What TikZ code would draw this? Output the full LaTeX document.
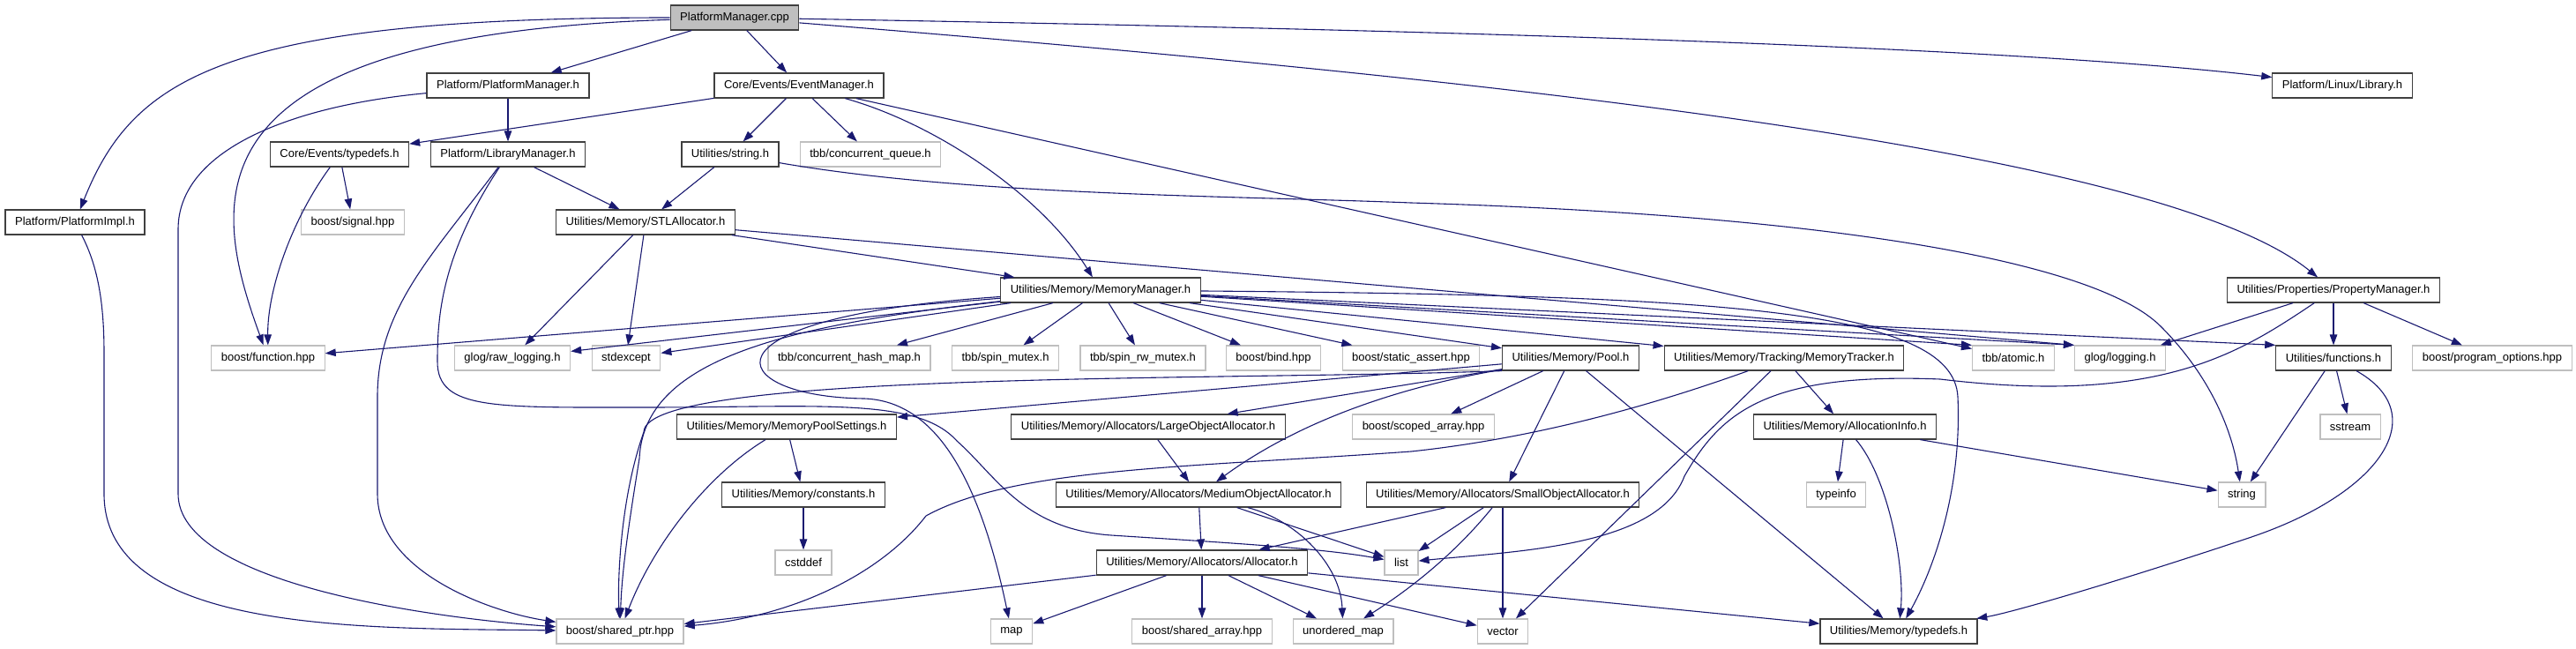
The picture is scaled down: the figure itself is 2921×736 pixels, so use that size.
\documentclass[tikz,border=0pt]{standalone}
\usepackage{fontspec}
\setmainfont{Liberation Sans}
\usetikzlibrary{arrows.meta}
\definecolor{edgeBlue}{HTML}{191970}
\definecolor{boxDark}{HTML}{404040}
\definecolor{boxGrey}{HTML}{BFBFBF}

\begin{document}
\begin{tikzpicture}[x=1bp, y=-1bp,
          hdr/.style={draw=boxDark, line width=1.2bp, minimum height=28bp,
            inner xsep=11bp, inner ysep=0pt, font=\fontsize{13bp}{15bp}\selectfont},
          ext/.style={hdr, draw=boxGrey},
          src/.style={hdr, fill=boxGrey},
          arr/.style={edgeBlue, line width=1.1bp, -{Triangle[length=12bp, width=8.5bp]}}]
        \useasboundingbox (0,0) rectangle (2921,736);
        \node[src] (cpp) at (833,20) {PlatformManager.cpp};
        \node[hdr] (pmh) at (576,97) {Platform/PlatformManager.h};
        \node[hdr] (evm) at (906,97) {Core/Events/EventManager.h};
        \node[hdr] (lnx) at (2656,97) {Platform/Linux/Library.h};
        \node[hdr] (evt) at (385,175) {Core/Events/typedefs.h};
        \node[hdr] (lbm) at (576,175) {Platform/LibraryManager.h};
        \node[hdr] (strh) at (828,175) {Utilities/string.h};
        \node[ext] (cq) at (987,175) {tbb/concurrent\_queue.h};
        \node[hdr] (impl) at (85,252) {Platform/PlatformImpl.h};
        \node[ext] (sig) at (400,252) {boost/signal.hpp};
        \node[hdr] (stl) at (732,252) {Utilities/Memory/STLAllocator.h};
        \node[hdr] (mm) at (1248,329) {Utilities/Memory/MemoryManager.h};
        \node[hdr] (prop) at (2646,329) {Utilities/Properties/PropertyManager.h};
        \node[ext] (fun) at (304,406) {boost/function.hpp};
        \node[ext] (rawlog) at (581,406) {glog/raw\_logging.h};
        \node[ext] (stdex) at (710,406) {stdexcept};
        \node[ext] (chm) at (963,406) {tbb/concurrent\_hash\_map.h};
        \node[ext] (spin) at (1140,406) {tbb/spin\_mutex.h};
        \node[ext] (spinrw) at (1296,406) {tbb/spin\_rw\_mutex.h};
        \node[ext] (bind) at (1444,406) {boost/bind.hpp};
        \node[ext] (sassert) at (1600,406) {boost/static\_assert.hpp};
        \node[hdr] (pool) at (1781,406) {Utilities/Memory/Pool.h};
        \node[hdr] (track) at (2023,406) {Utilities/Memory/Tracking/MemoryTracker.h};
        \node[ext] (atomic) at (2283,406) {tbb/atomic.h};
        \node[ext] (glog) at (2404,406) {glog/logging.h};
        \node[hdr] (funcs) at (2646,406) {Utilities/functions.h};
        \node[ext] (popt) at (2826,406) {boost/program\_options.hpp};
        \node[hdr] (mps) at (892,484) {Utilities/Memory/MemoryPoolSettings.h};
        \node[hdr] (loa) at (1302,484) {Utilities/Memory/Allocators/LargeObjectAllocator.h};
        \node[ext] (scoped) at (1614,484) {boost/scoped\_array.hpp};
        \node[hdr] (ainfo) at (2092,484) {Utilities/Memory/AllocationInfo.h};
        \node[ext] (sstr) at (2665,484) {sstream};
        \node[hdr] (consts) at (911,561) {Utilities/Memory/constants.h};
        \node[hdr] (moa) at (1359,561) {Utilities/Memory/Allocators/MediumObjectAllocator.h};
        \node[hdr] (soa) at (1704,561) {Utilities/Memory/Allocators/SmallObjectAllocator.h};
        \node[ext] (tinfo) at (2082,561) {typeinfo};
        \node[ext] (str) at (2542,561) {string};
        \node[ext] (cstd) at (911,638) {cstddef};
        \node[hdr] (alloc) at (1363,638) {Utilities/Memory/Allocators/Allocator.h};
        \node[ext] (list) at (1589,638) {list};
        \node[ext] (sptr) at (703,716) {boost/shared\_ptr.hpp};
        \node[ext] (map) at (1147,716) {map};
        \node[ext] (sarr) at (1363,716) {boost/shared\_array.hpp};
        \node[ext] (umap) at (1523,716) {unordered\_map};
        \node[ext] (vec) at (1704,716) {vector};
        \node[hdr] (mtd) at (2153,716) {Utilities/Memory/typedefs.h};
        \foreach \a/\b in {cpp/pmh, cpp/evm, pmh/lbm, evm/evt, evm/strh, evm/cq, evm/atomic,
            evt/sig, lbm/stl, strh/stl, stl/mm, stl/rawlog, stl/stdex, mm/fun, mm/rawlog,
            mm/stdex, mm/chm, mm/spin, mm/spinrw, mm/bind, mm/sassert, mm/pool, mm/track,
            prop/glog, prop/funcs, prop/popt, funcs/str, funcs/sstr, pool/mps, pool/loa,
            pool/scoped, pool/soa, pool/mtd, track/ainfo, track/vec, ainfo/tinfo, ainfo/str,
            mps/consts, consts/cstd, loa/moa, moa/alloc, moa/list, soa/alloc, soa/list,
            soa/vec, alloc/sptr, alloc/map, alloc/sarr, alloc/umap, alloc/vec, alloc/mtd}
          \draw[arr] (\a) -- (\b);
        \draw[arr] (stl) -- (glog.north west);
        \draw[arr] (mm) -- (glog.north west);
        \draw[arr] (mm) -- (atomic.north west);
        \draw[arr] (mm) -- (funcs.north west);
        \draw[arr] (cpp) .. controls (250,20) and (150,90) .. (impl);
        \draw[arr] (cpp) .. controls (200,40) and (240,230) .. (fun);
        \draw[arr] (cpp) .. controls (1700,35) and (2300,55) .. (lnx);
        \draw[arr] (cpp) .. controls (1700,90) and (2450,170) .. (prop);
        \draw[arr] (pmh) .. controls (330,120) and (202,170) .. (202,260) -- (202,560)
          .. controls (202,660) and (480,700) .. (sptr);
        \draw[arr] (evm) .. controls (1060,140) and (1180,220) .. (mm);
        \draw[arr] (evt) .. controls (330,250) and (303,330) .. (fun);
        \draw[arr] (lbm) .. controls (490,290) and (428,350) .. (428,450) -- (428,560)
          .. controls (428,650) and (560,695) .. (sptr);
        \draw[arr] (lbm) .. controls (500,290) and (496,360) .. (496,410)
          .. controls (496,465) and (560,462) .. (730,462)
          .. controls (930,462) and (1040,450) .. (1085,500)
          .. controls (1130,540) and (1160,600) .. (1260,607)
          .. controls (1400,616) and (1500,622) .. (list);
        \draw[arr] (strh) .. controls (1100,222) and (1400,222) .. (1600,230)
          .. controls (2100,245) and (2380,300) .. (2450,370)
          .. controls (2500,420) and (2530,480) .. (str);
        \draw[arr] (impl) .. controls (110,300) and (118,340) .. (118,400) -- (118,560)
          .. controls (118,720) and (420,712) .. (sptr);
        \draw[arr] (mm) .. controls (880,370) and (730,410) .. (725,520)
          .. controls (712,600) and (705,650) .. (sptr);
        \draw[arr] (mm) .. controls (780,360) and (820,450) .. (980,452)
          .. controls (1060,455) and (1110,540) .. (map);
        \draw[arr] (mm) .. controls (1950,335) and (2215,350) .. (2220,450)
          .. controls (2225,560) and (2190,650) .. (mtd);
        \draw[arr] (funcs) .. controls (2760,470) and (2700,560) .. (2550,610)
          .. controls (2400,660) and (2280,695) .. (mtd);
        \draw[arr] (prop) .. controls (2540,400) and (2450,460) .. (2200,430)
          .. controls (2000,422) and (1950,470) .. (1910,540)
          .. controls (1880,620) and (1720,625) .. (list);
        \draw[arr] (mps) .. controls (800,540) and (740,620) .. (sptr);
        \draw[arr] (pool.south west) .. controls (1400,432) and (730,420) .. (730,490)
          .. controls (705,560) and (700,650) .. (sptr);
        \draw[arr] (pool) .. controls (1580,440) and (1470,480) .. (moa);
        \draw[arr] (track) .. controls (1900,450) and (1760,495) .. (1600,512)
          .. controls (1350,530) and (1150,530) .. (1050,585)
          .. controls (1000,650) and (900,700) .. (sptr);
        \draw[arr] (ainfo) .. controls (2140,540) and (2160,640) .. (mtd);
        \draw[arr] (moa) .. controls (1470,590) and (1520,640) .. (umap);
        \draw[arr] (soa) .. controls (1640,640) and (1580,680) .. (umap);
      \end{tikzpicture}
\end{document}
